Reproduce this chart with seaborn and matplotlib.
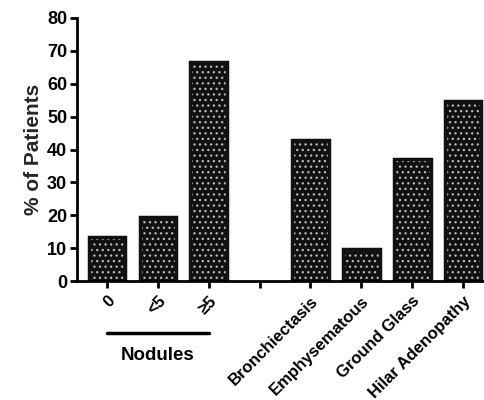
import matplotlib
matplotlib.use("Agg")
import matplotlib.pyplot as plt
import matplotlib.transforms as mtransforms
from matplotlib.patches import Rectangle
import pandas as pd
import seaborn as sns

# Values (% of patients per CT finding).
categories = ["0", "<5", "\u22655", " ", "Bronchiectasis", "Emphysematous", "Ground Glass", "Hilar Adenopathy"]
percent = [13.5, 19.5, 66.5, 0.0, 43.0, 9.8, 37.0, 54.8]
y_ticks = [0, 10, 20, 30, 40, 50, 60, 70, 80]
group_label = "Nodules"
group_span = [0, 2]

sns.set_theme(style="ticks")
plt.rcParams["font.family"] = ["Liberation Sans", "DejaVu Sans"]
plt.rcParams["font.weight"] = "bold"
plt.rcParams["hatch.linewidth"] = 0.9
plt.rcParams["text.color"] = "black"

df = pd.DataFrame({"finding": categories, "pct": percent})

fig = plt.figure(figsize=(4.84, 4.0), dpi=100)
ax = fig.add_axes([0.159, 0.2975, 0.841, 0.6575])

sns.barplot(data=df, x="finding", y="pct", color="#111111", width=0.72,
            saturation=1, ax=ax, edgecolor="#bbbbbb", linewidth=0, hatch="...")

# solid black outline around each bar (hatch keeps its light colour)
for p in list(ax.patches):
    if p.get_height() > 0:
        ax.add_patch(Rectangle(p.get_xy(), p.get_width(), p.get_height(), fill=False,
                               edgecolor="#111111", lw=2.5, zorder=p.get_zorder() + 0.1))

ax.set_xlim(-0.59, 7.41)
ax.set_ylim(0, 80)
ax.set_yticks(y_ticks)
ax.set_yticklabels([str(v) for v in y_ticks], fontsize=13, fontweight="bold")
ax.set_xticks(range(len(categories)))
ax.set_xticklabels(categories, rotation=45, ha="right", rotation_mode="anchor",
                   fontsize=12, fontweight="bold")
ax.set_xlabel("")
ax.set_ylabel("% of Patients", fontsize=15, fontweight="bold", labelpad=3)

for side in ["top", "right"]:
    ax.spines[side].set_visible(False)
for side in ["left", "bottom"]:
    ax.spines[side].set_linewidth(2)
    ax.spines[side].set_color("black")
ax.tick_params(axis="both", width=2, length=5, color="black", labelcolor="black")
ax.tick_params(axis="x", pad=4)
ax.tick_params(axis="y", pad=2)

# group bracket under the nodule bars
trans = mtransforms.blended_transform_factory(ax.transData, ax.transAxes)
ax.plot(group_span, [-0.198, -0.198], color="black", lw=2.5, transform=trans, clip_on=False)
ax.text(sum(group_span) / 2, -0.285, group_label, transform=trans, ha="center", va="center",
        fontsize=13.5, fontweight="bold")

fig.savefig("out.png", dpi=100)
